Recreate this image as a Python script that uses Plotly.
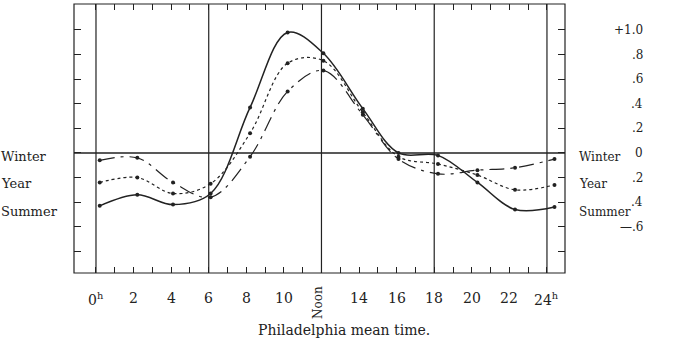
import plotly.graph_objects as go

# Hours (Philadelphia mean time) at which the curves are plotted
hours = [0.2, 2.2, 4.1, 6.1, 8.2, 10.2, 12.1, 14.2, 16.1, 18.2, 20.3, 22.3, 24.4]
summer = [-0.43, -0.34, -0.42, -0.33, 0.37, 0.98, 0.81, 0.36, 0.0, -0.02, -0.24, -0.46, -0.44]
year = [-0.24, -0.20, -0.33, -0.25, 0.16, 0.73, 0.75, 0.33, -0.03, -0.09, -0.18, -0.30, -0.26]
winter = [-0.06, -0.04, -0.24, -0.36, -0.03, 0.50, 0.67, 0.31, -0.05, -0.17, -0.14, -0.12, -0.05]

x_label_vals = [0, 2, 4, 6, 8, 10, 14, 16, 18, 20, 22, 24]
x_label_text = ["0<sup>h</sup>", "2", "4", "6", "8", "10", "14", "16", "18", "20", "22", "24<sup>h</sup>"]
noon_label = "Noon"
y_label_vals = [1.0, 0.8, 0.6, 0.4, 0.2, 0.0, -0.2, -0.4, -0.6]
y_label_text = ["+1.0", ".8", ".6", ".4", ".2", "0", ".2", ".4", "\u2014.6"]
series_names = ["Winter", "Year", "Summer"]
series_label_y = [-0.03, -0.25, -0.48]
x_title = "Philadelphia mean time."

FONT = "DejaVu Serif"
INK = "#222"

fig = go.Figure()
styles = [
    (winter, "longdashdot", 1.2),
    (year, "dot", 1.2),
    (summer, "solid", 1.5),
]
for vals, dash, w in styles:
    fig.add_trace(go.Scatter(
        x=hours, y=vals, mode="lines+markers",
        line=dict(color=INK, width=w, dash=dash, shape="spline", smoothing=1.0),
        marker=dict(color=INK, size=4),
        showlegend=False, hoverinfo="skip",
    ))

shapes = []
# frame
shapes.append(dict(type="rect", xref="paper", yref="paper", x0=0, x1=1, y0=0, y1=1,
                   line=dict(color=INK, width=1.2)))
# zero line
shapes.append(dict(type="line", xref="paper", yref="y", x0=0, x1=1, y0=0, y1=0,
                   line=dict(color=INK, width=1.6)))
# six-hour verticals
for h in [0, 6, 12, 18, 24]:
    shapes.append(dict(type="line", xref="x", yref="paper", x0=h, x1=h, y0=0, y1=1,
                       line=dict(color=INK, width=1.2)))

annotations = []
for v, t in zip(x_label_vals, x_label_text):
    annotations.append(dict(x=v, y=-0.055, xref="x", yref="paper", text=t, showarrow=False,
                            yanchor="top", font=dict(family=FONT, size=14, color=INK)))
annotations.append(dict(x=11.85, y=-0.04, xref="x", yref="paper", text=noon_label, showarrow=False,
                        textangle=-90, yanchor="top", font=dict(family=FONT, size=12, color=INK)))
annotations.append(dict(x=0.55, y=-0.175, xref="paper", yref="paper", text=x_title, showarrow=False,
                        yanchor="top", font=dict(family=FONT, size=14, color=INK)))
for v, t in zip(y_label_vals, y_label_text):
    annotations.append(dict(x=1.163, y=v, xref="paper", yref="y", text=t, showarrow=False,
                            xanchor="right", font=dict(family=FONT, size=12, color=INK)))
for name, yy in zip(series_names, series_label_y):
    annotations.append(dict(x=-0.152, y=yy, xref="paper", yref="y", text=name, showarrow=False,
                            xanchor="left", font=dict(family=FONT, size=13, color=INK)))
    annotations.append(dict(x=1.024, y=yy, xref="paper", yref="y", text=name, showarrow=False,
                            xanchor="left", font=dict(family=FONT, size=12, color=INK)))

fig.update_layout(
    width=677, height=343,
    margin=dict(l=74, r=112, t=4, b=70),
    paper_bgcolor="white", plot_bgcolor="white",
    shapes=shapes, annotations=annotations,
    xaxis=dict(range=[-1.17, 24.96], tickvals=list(range(0, 25)), ticktext=[""] * 25,
               ticks="inside", ticklen=6, tickcolor=INK, mirror="ticks",
               showgrid=False, zeroline=False, showline=False, fixedrange=True),
    yaxis=dict(range=[-0.976, 1.211], tickvals=[-0.8, -0.6, -0.4, -0.2, 0, 0.2, 0.4, 0.6, 0.8, 1.0],
               ticks="inside", ticklen=7, tickcolor=INK, mirror="ticks", showticklabels=False,
               showgrid=False, zeroline=False, showline=False, fixedrange=True),
)

fig.write_html("out.html")
